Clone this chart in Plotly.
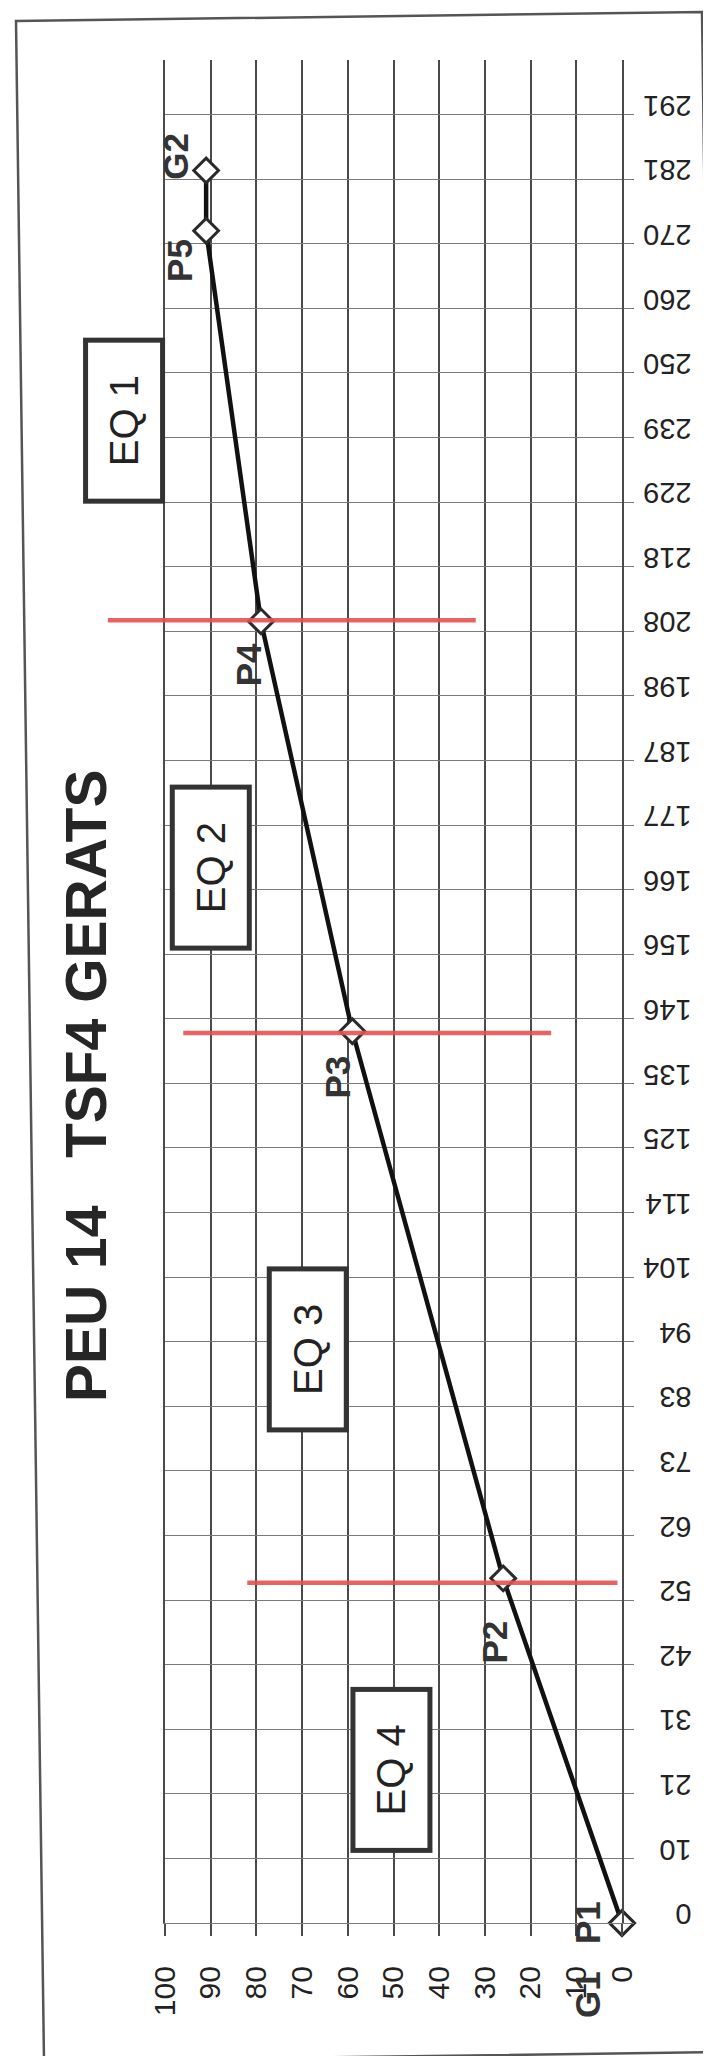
import plotly.graph_objects as go

# ---------------- data ----------------
dist_tick_labels = ["0", "10", "21", "31", "42", "52", "62", "73", "83", "94", "104",
                    "114", "125", "135", "146", "156", "166", "177", "187", "198",
                    "208", "218", "229", "239", "250", "260", "270", "281", "291"]
dist_tick_step = 10.4
value_ticks = [0, 10, 20, 30, 40, 50, 60, 70, 80, 90, 100]

point_names = ["G1", "P1", "P2", "P3", "P4", "P5", "G2"]
point_dist = [0, 0, 55.5, 143.6, 209.6, 272.5, 282.2]
point_value = [0, 0, 26, 59, 79, 91, 91]

boundary_dist = [54.8, 143.3, 209.8]
boundary_from = [82, 96, 112.5]
boundary_to = [1, 15.5, 32]

zone_names = ["EQ 1", "EQ 2", "EQ 3", "EQ 4"]
zone_dist = [241.9, 169.9, 92.3, 24.6]
zone_value = [109, 90, 68.8, 50.4]

title_text = "PEU 14   TSF4 GERATS"

# ---------------- layout / style ----------------
W, H = 711, 2056
ML, MR, MT, MB = 157, 97, 52, 141
PW, PH = W - ML - MR, H - MT - MB
X_RANGE = [100, 0]
Y_RANGE = [0, 300]
FONT = "Liberation Sans"

label_offsets = {  # pixel shifts of the point labels (dx, dy-up)
    "G1": (-35, -72), "P1": (-35, 0), "P2": (-9, -64), "P3": (-15, -46),
    "P4": (-13, -43), "P5": (-26, -30), "G2": (-31, 14),
}


def px_x(xp):
    return (xp - ML) / PW


def px_y(yp):
    return (H - MB - yp) / PH


def val_to_paper(v):
    return (v - X_RANGE[0]) / (X_RANGE[1] - X_RANGE[0])


def dist_to_paper(d):
    return (d - Y_RANGE[0]) / (Y_RANGE[1] - Y_RANGE[0])


fig = go.Figure()

fig.add_trace(go.Scatter(
    x=point_value, y=point_dist, mode="lines+markers",
    line=dict(color="#111111", width=4.5),
    marker=dict(symbol="diamond", size=19, color="white",
                line=dict(color="#2a2a2a", width=3)),
    cliponaxis=False, showlegend=False, hoverinfo="skip",
))

shapes = []
# red boundary lines
for d, a, b in zip(boundary_dist, boundary_from, boundary_to):
    shapes.append(dict(type="line", xref="paper", yref="y",
                       x0=val_to_paper(a), x1=val_to_paper(b), y0=d, y1=d,
                       line=dict(color="rgba(232,80,80,0.9)", width=4.5), layer="above"))

# scanned page frame
frame = [(8, 13), (694, 4), (722, 2044), (36, 2053)]
path = "M " + " L ".join(f"{px_x(a):.5f},{px_y(b):.5f}" for a, b in frame) + " Z"
shapes.append(dict(type="path", xref="paper", yref="paper", path=path,
                   line=dict(color="#555555", width=2.5), layer="below"))

annotations = []
# title
annotations.append(dict(text=f"<b>{title_text}</b>", xref="paper", yref="paper",
                        x=px_x(78), y=px_y(1078), showarrow=False, textangle=-90,
                        xanchor="center", yanchor="middle",
                        font=dict(family=FONT, size=57, color="#262626")))
# zone boxes
for name, d, v in zip(zone_names, zone_dist, zone_value):
    annotations.append(dict(text=name, x=val_to_paper(v), y=dist_to_paper(d),
                            xref="paper", yref="paper", showarrow=False,
                            textangle=-90, xanchor="center", yanchor="middle",
                            width=156, height=72, borderpad=0, borderwidth=5,
                            bordercolor="#333333", bgcolor="white",
                            font=dict(family=FONT, size=40, color="#222222")))
# point labels
for name, d, v in zip(point_names, point_dist, point_value):
    dx, dy = label_offsets[name]
    annotations.append(dict(text=f"<b>{name}</b>", x=v, y=d, xref="x", yref="y",
                            showarrow=False, textangle=-90, xanchor="center",
                            yanchor="middle", xshift=dx, yshift=dy,
                            font=dict(family=FONT, size=35, color="#333333")))

fig.update_layout(
    width=W, height=H, margin=dict(l=ML, r=MR, t=MT, b=MB, pad=0),
    paper_bgcolor="white", plot_bgcolor="white",
    shapes=shapes, annotations=annotations, showlegend=False,
    xaxis=dict(range=X_RANGE, tickmode="array", tickvals=value_ticks,
               ticktext=[str(v) for v in value_ticks], tickangle=-90,
               ticks="outside", ticklen=12, tickcolor="#4a4a4a", tickwidth=1.6,
               ticklabelstandoff=18,
               showgrid=True, gridcolor="#4a4a4a", gridwidth=1.6, zeroline=False,
               showline=True, linecolor="#7a7a7a", linewidth=1.3,
               tickfont=dict(family=FONT, size=30, color="#222222")),
    yaxis=dict(range=Y_RANGE, side="right", tickmode="array",
               tickvals=[i * dist_tick_step for i in range(len(dist_tick_labels))],
               ticktext=dist_tick_labels, tickangle=180,
               ticks="outside", ticklen=10, tickcolor="#7a7a7a", tickwidth=1.3,
               ticklabelstandoff=52,
               showgrid=True, gridcolor="#7a7a7a", gridwidth=1.3, zeroline=False,
               showline=True, mirror=True, linecolor="#4a4a4a", linewidth=1.6,
               tickfont=dict(family=FONT, size=29, color="#222222")),
)

fig.write_html("out.html")
